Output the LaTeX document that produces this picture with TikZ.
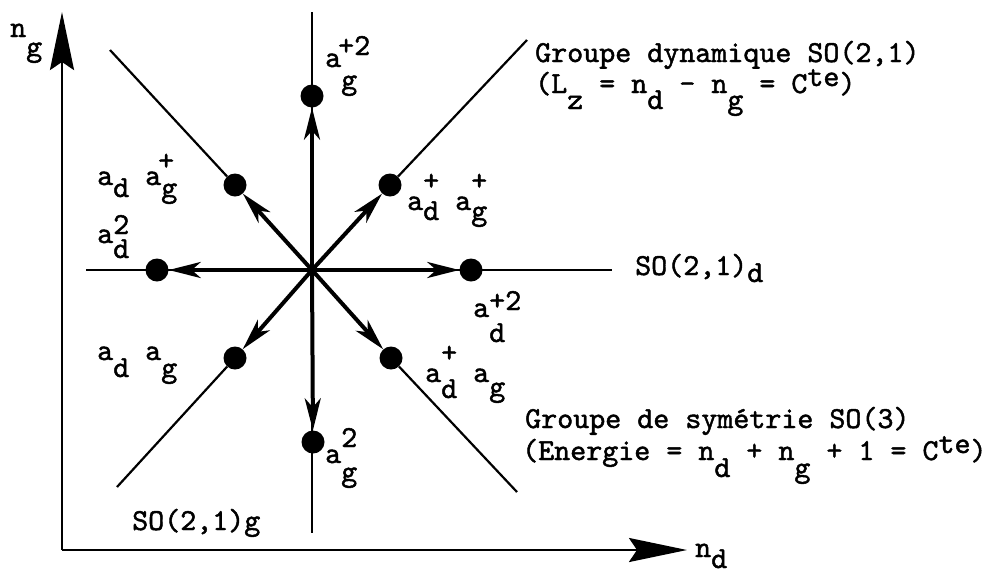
\documentclass[tikz,border=0pt]{standalone}
\usepackage{fontspec}
\newfontfamily\tw{lmmono10-regular}[Extension=.otf,FakeBold=1.5]
\usetikzlibrary{arrows.meta}
\pgfdeclarelayer{back}
\pgfsetlayers{back,main}
\newcommand\lo[2][13pt]{\raisebox{-#1}{#2}}
\newcommand\hi[2][13pt]{\raisebox{#1}{#2}}
\begin{document}
\begin{tikzpicture}[x=1pt,y=-1pt,
  lab/.style={anchor=base west,inner sep=0pt,font=\tw\fontsize{30.5}{34}\selectfont},
  dot/.style={circle,fill=black,inner sep=0pt,minimum size=23pt},
  thinline/.style={line width=2.2pt},
  vec/.style={line width=4pt,-{Stealth[length=32pt,width=16pt,inset=9pt]}},
  axis/.style={line width=2.6pt,-{Stealth[length=58pt,width=24pt,inset=8pt]}}]
\useasboundingbox (0,0) rectangle (998,574);
% points
\coordinate (c) at (312,270);
\node[dot] (t) at (312,96) {};
\node[dot] (l) at (157,270) {};
\node[dot] (r) at (471,270) {};
\node[dot] (b) at (313,442) {};
\node[dot] (nw) at (235,185) {};
\node[dot] (ne) at (390,185) {};
\node[dot] (sw) at (235,358) {};
\node[dot] (se) at (391,358) {};
\coordinate (vt) at (312,12);
\coordinate (vb) at (312,533);
\coordinate (hl) at (86,270);
\coordinate (hr) at (612,270);
\coordinate (nwe) at (110,50);
\coordinate (nee) at (527,40);
\coordinate (swe) at (117,487);
\coordinate (see) at (517,492);
\coordinate (o) at (62,550);
\coordinate (yt) at (62,12);
\coordinate (xt) at (687,550);
\begin{pgfonlayer}{back}
\draw[thinline] (vt) -- (vb);
\draw[thinline] (hl) -- (hr);
\draw[thinline] (nwe) -- (nw);
\draw[thinline] (ne) -- (nee);
\draw[thinline] (sw) -- (swe);
\draw[thinline] (se) -- (see);
\draw[axis] (o) -- (yt);
\draw[axis] (o) -- (xt);
\draw[vec] (c) -- (t);
\draw[vec] (c) -- (b);
\draw[vec] (c) -- (l);
\draw[vec] (c) -- (r);
\draw[vec] (c) -- (nw);
\draw[vec] (c) -- (ne);
\draw[vec] (c) -- (sw);
\draw[vec] (c) -- (se);
\end{pgfonlayer}
% labels
\node[lab] (lng) at (10,37) {n\lo[19pt]{g}};
\node[lab] (lnd) at (695,557) {n\lo[11pt]{d}};
\node[lab] (lt) at (325,67) {a\rlap{\hspace{-0.1em}\hi[12pt]{+2}}\lo[22pt]{g}};
\node[lab] (lnw) at (97,185) {a\lo[12pt]{d}~a\rlap{\hspace{-0.1em}\hi[15pt]{+}}\lo[12pt]{g}};
\node[lab] (ll) at (97,243) {a\rlap{\hi[9pt]{2}}\lo[15pt]{d}};
\node[lab] (lne) at (407,210) {a\rlap{\hi[20pt]{+}}\lo[10pt]{d}~a\rlap{\hi[20pt]{+}}\lo[10pt]{g}};
\node[lab] (lr) at (635,275) {SO(2,1)\lo[7pt]{d}};
\node[lab] (lr2) at (473,317) {a\rlap{\hi[7pt]{+2}}\lo[25pt]{d}};
\node[lab] (lsw) at (97,360) {a\lo[17pt]{d}~a\lo[17pt]{g}};
\node[lab] (lse) at (425,382) {a\rlap{\hi[20pt]{+}}\lo[16pt]{d}~a\lo[14pt]{g}};
\node[lab] (lb) at (325,463) {a\rlap{\hi[16pt]{2}}\lo[18pt]{g}};
\node[lab] (ldyn1) at (535,62) {Groupe dynamique SO(2,1)};
\node[lab] (ldyn2) at (535,93) {(L\lo[16pt]{z} = n\lo[16pt]{d} - n\lo[16pt]{g} = C\hi[7pt]{te})};
\node[lab] (lsym1) at (525,428) {Groupe de symétrie SO(3)};
\node[lab] (lsym2) at (522,460) {(Energie = n\lo[17pt]{d} + n\lo[17pt]{g} + 1 = C\hi[7pt]{te})};
\node[lab] (lsog) at (132,530) {SO(2,1)g};
\end{tikzpicture}
\end{document}
